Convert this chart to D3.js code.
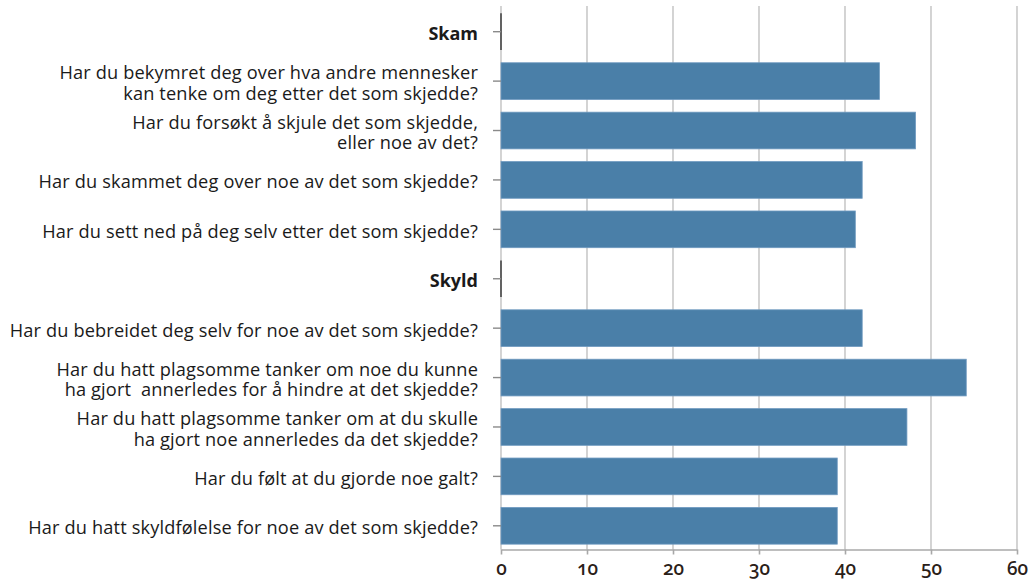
<!DOCTYPE html>
<html>
<head>
<meta charset="utf-8">
<script src="https://cdn.jsdelivr.net/npm/d3@7"></script>
<style>
  html, body { margin: 0; padding: 0; background: #fff; }
  svg { display: block; }
  .lbl { font-family: "Open Sans", sans-serif; font-size: 18.2px; font-weight: 500; fill: #1a1a1a; white-space: pre; letter-spacing: 0.15px; }
  .lbl.head { font-size: 18px; font-weight: 700; letter-spacing: 0; }
  .xt { font-family: "Noto Sans", sans-serif; font-size: 19px; font-weight: 500; fill: #2a2018; font-variant-numeric: oldstyle-nums; }
</style>
</head>
<body>
<svg id="chart" width="1034" height="582"></svg>
<script>
// rows top to bottom; headers have no value
const rows = [
  "Skam",
  "Har du bekymret deg over hva andre mennesker\nkan tenke om deg etter det som skjedde?",
  "Har du forsøkt å skjule det som skjedde,\neller noe av det?",
  "Har du skammet deg over noe av det som skjedde?",
  "Har du sett ned på deg selv etter det som skjedde?",
  "Skyld",
  "Har du bebreidet deg selv for noe av det som skjedde?",
  "Har du hatt plagsomme tanker om noe du kunne\nha gjort  annerledes for å hindre at det skjedde?",
  "Har du hatt plagsomme tanker om at du skulle\nha gjort noe annerledes da det skjedde?",
  "Har du følt at du gjorde noe galt?",
  "Har du hatt skyldfølelse for noe av det som skjedde?"
];
const headers = ["Skam", "Skyld"];
const values = [null, 44.0, 48.2, 42.0, 41.2, null, 42.0, 54.1, 47.2, 39.1, 39.1];
const xTicks = [0, 10, 20, 30, 40, 50, 60];

const svg = d3.select('#chart');
const x = d3.scaleLinear().domain([0, 60]).range([501, 1017]);
const y = d3.scaleBand().domain(d3.range(rows.length)).range([7, 550.5])
  .paddingInner(0.257).paddingOuter(0.1285);
const axisY = 549.5;

// gridlines
svg.append('g').selectAll('line').data(xTicks).join('line')
  .attr('x1', d => x(d)).attr('x2', d => x(d))
  .attr('y1', 6).attr('y2', axisY)
  .attr('stroke', '#c9c9c9').attr('stroke-width', 1.6);

// bottom axis
const xAxis = d3.axisBottom(x).tickValues(xTicks).tickSize(5).tickPadding(7).tickSizeOuter(0);
const gx = svg.append('g').attr('transform', `translate(0,${axisY})`).call(xAxis);
gx.select('.domain').attr('stroke', '#a8a8a8').attr('stroke-width', 1.6);
gx.selectAll('.tick line').attr('stroke', '#a8a8a8').attr('stroke-width', 1.6);
gx.selectAll('.tick text').attr('class', 'xt').attr('fill', null).attr('font-size', null).attr('font-family', null);

// bars
svg.append('g').selectAll('rect').data(values.map((v, i) => ({ v, i })).filter(d => d.v != null)).join('rect')
  .attr('x', x(0)).attr('y', d => y(d.i))
  .attr('width', d => x(d.v) - x(0)).attr('height', y.bandwidth())
  .attr('fill', '#4a7fa8').attr('stroke', '#6f9ac0').attr('stroke-width', 0.8);

// header rows: zero-length bar outline
svg.append('g').selectAll('line').data(rows.map((r, i) => i).filter(i => headers.includes(rows[i]))).join('line')
  .attr('x1', x(0)).attr('x2', x(0))
  .attr('y1', i => y(i)).attr('y2', i => y(i) + y.bandwidth())
  .attr('stroke', '#333').attr('stroke-width', 1.4);

// left ticks
svg.append('g').selectAll('line').data(d3.range(rows.length)).join('line')
  .attr('x1', x(0) - 8).attr('x2', x(0))
  .attr('y1', i => y(i) + y.bandwidth() / 2).attr('y2', i => y(i) + y.bandwidth() / 2)
  .attr('stroke', '#8a8a8a').attr('stroke-width', 1.4);

// category labels
const lh = 20.7;
svg.append('g').selectAll('text').data(rows).join('text')
  .attr('class', d => headers.includes(d) ? 'lbl head' : 'lbl')
  .attr('text-anchor', 'end')
  .each(function (d, i) {
    const lines = d.split('\n');
    const cy = y(i) + y.bandwidth() / 2;
    d3.select(this).selectAll('tspan').data(lines).join('tspan')
      .attr('x', 478)
      .attr('y', (l, j) => cy + 8.5 + (j - (lines.length - 1) / 2) * lh)
      .text(l => l);
  });
</script>
</body>
</html>
